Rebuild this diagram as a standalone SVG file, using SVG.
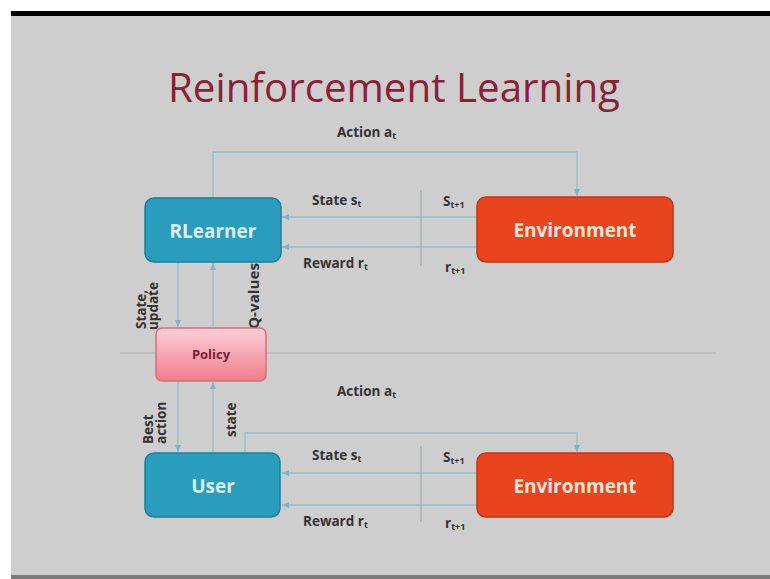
<svg xmlns="http://www.w3.org/2000/svg" width="770" height="579" viewBox="0 0 770 579">
<defs>
<linearGradient id="pg" x1="0" y1="0" x2="0" y2="1">
<stop offset="0" stop-color="#fbd0d6"/>
<stop offset="1" stop-color="#f07c8c"/>
</linearGradient>
<marker id="ah" markerWidth="8" markerHeight="8" refX="7" refY="4" orient="auto" markerUnits="userSpaceOnUse">
<path d="M0,1 L7,4 L0,7 z" fill="#7fb3c2"/>
</marker>
<style>
.t{font-family:"Open Sans","Liberation Sans",sans-serif;font-weight:bold;fill:#333;font-size:13.5px}
.s{font-size:9px}
.n{font-family:"Open Sans","Liberation Sans",sans-serif;font-weight:bold;font-size:19px;text-anchor:middle}
.c{fill:none;stroke:#8fbfcc;stroke-width:1.3}
.d{fill:none;stroke:#9aa5aa;stroke-width:1}
.teal{fill:#2a9cbd;stroke:#1d7f9c;stroke-width:1.5}
.red{fill:#e8441d;stroke:#c23512;stroke-width:1.5}
</style>
</defs>
<rect width="770" height="579" fill="#ffffff"/>
<rect x="11" y="11" width="759" height="566" fill="#cecece"/>
<rect x="11" y="11" width="759" height="5" fill="#000"/>
<rect x="11" y="575" width="759" height="4" fill="#7a7a7a"/>
<text x="394" y="102" font-family="'Open Sans','Liberation Sans',sans-serif" font-size="40" fill="#8c1f36" text-anchor="middle" textLength="452" lengthAdjust="spacingAndGlyphs">Reinforcement Learning</text>
<line x1="120" y1="353" x2="716" y2="353" stroke="#bdbdbd" stroke-width="2"/>
<g id="connectors">
<polyline class="c" points="213,198 213,152 577,152 577,196" marker-end="url(#ah)"/>
<line class="c" x1="477" y1="217" x2="282" y2="217" marker-end="url(#ah)"/>
<line class="c" x1="477" y1="247" x2="282" y2="247" marker-end="url(#ah)"/>
<line class="d" x1="421" y1="190" x2="421" y2="266"/>
<line class="c" x1="178" y1="262" x2="178" y2="327" marker-end="url(#ah)"/>
<line class="c" x1="213" y1="328" x2="213" y2="263" marker-end="url(#ah)"/>
<line class="c" x1="178" y1="381" x2="178" y2="452" marker-end="url(#ah)"/>
<line class="c" x1="213" y1="453" x2="213" y2="382" marker-end="url(#ah)"/>
<polyline class="c" points="245,453 245,433 577,433 577,452" marker-end="url(#ah)"/>
<line class="c" x1="477" y1="473" x2="282" y2="473" marker-end="url(#ah)"/>
<line class="c" x1="477" y1="505" x2="282" y2="505" marker-end="url(#ah)"/>
<line class="d" x1="421" y1="446" x2="421" y2="522"/>
</g>
<g id="labels">
<text class="t" x="337" y="137">Action a<tspan class="s" dy="2">t</tspan></text>
<text class="t" x="312" y="205">State s<tspan class="s" dy="2">t</tspan></text>
<text class="t" x="443" y="206">S<tspan class="s" dy="2">t+1</tspan></text>
<text class="t" x="303" y="268">Reward r<tspan class="s" dy="2">t</tspan></text>
<text class="t" x="445" y="272" font-weight="normal">r<tspan class="s" dy="2">t+1</tspan></text>
<text class="t" transform="translate(146,329) rotate(-90)">State,</text>
<text class="t" transform="translate(158,330) rotate(-90)">update</text>
<text class="t" font-weight="normal" transform="translate(259,329) rotate(-90)" textLength="66" lengthAdjust="spacingAndGlyphs">Q-values</text>
<text class="t" transform="translate(153,444) rotate(-90)">Best</text>
<text class="t" transform="translate(166,444) rotate(-90)">action</text>
<text class="t" font-weight="normal" transform="translate(236,437) rotate(-90)">state</text>
<text class="t" x="337" y="396">Action a<tspan class="s" dy="2">t</tspan></text>
<text class="t" x="312" y="460">State s<tspan class="s" dy="2">t</tspan></text>
<text class="t" x="443" y="462">S<tspan class="s" dy="2">t+1</tspan></text>
<text class="t" x="303" y="526">Reward r<tspan class="s" dy="2">t</tspan></text>
<text class="t" x="445" y="528" font-weight="normal">r<tspan class="s" dy="2">t+1</tspan></text>
</g>
<g id="rlearner">
<rect class="teal" x="145" y="198" width="136" height="64" rx="9"/>
<text class="n" x="213" y="238" fill="#d9f1f6">RLearner</text>
</g>
<g id="environment-top">
<rect class="red" x="477" y="197" width="196" height="65" rx="9"/>
<text class="n" x="575" y="237" fill="#fbe3d8">Environment</text>
</g>
<g id="policy">
<rect x="156" y="328" width="110" height="53" rx="6" fill="url(#pg)" stroke="#e06a7a" stroke-width="1.5"/>
<text x="211" y="359" font-family="'Open Sans','Liberation Sans',sans-serif" font-weight="bold" font-size="13" fill="#7a2236" text-anchor="middle">Policy</text>
</g>
<g id="user">
<rect class="teal" x="145" y="453" width="135" height="64" rx="9"/>
<text class="n" x="213" y="493" fill="#d9f1f6">User</text>
</g>
<g id="environment-bottom">
<rect class="red" x="477" y="453" width="196" height="64" rx="9"/>
<text class="n" x="575" y="493" fill="#fbe3d8">Environment</text>
</g>
</svg>
